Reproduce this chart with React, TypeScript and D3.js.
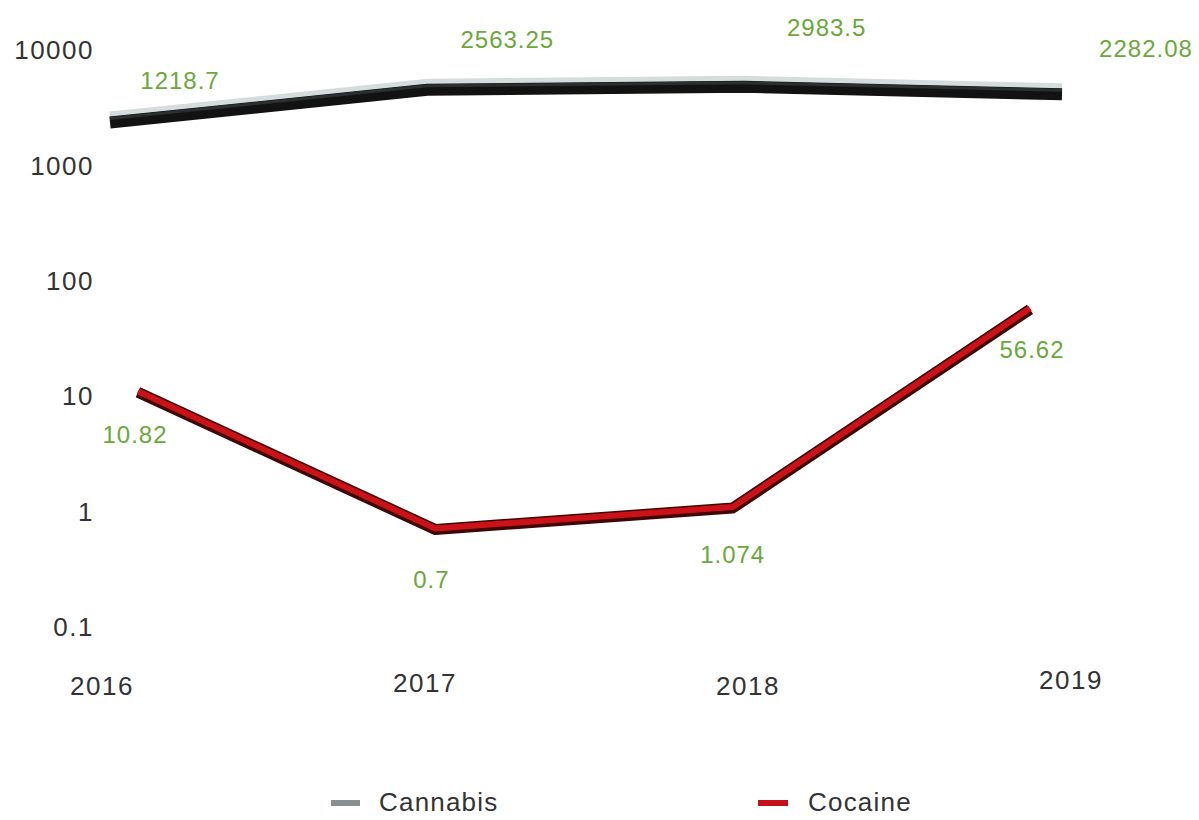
import React from "react";
import * as d3 from "d3";

const years = ["2016", "2017", "2018", "2019"];
// plotted positions
const cannabisValues = [2450, 4700, 5000, 4300];
const cocaineValues = [10.82, 0.7, 1.074, 56.62];
// data labels shown on the chart
const cannabisLabels = ["1218.7", "2563.25", "2983.5", "2282.08"];
const cocaineLabels = ["10.82", "0.7", "1.074", "56.62"];
const yTicks = [0.1, 1, 10, 100, 1000, 10000];
const yTickLabels = ["0.1", "1", "10", "100", "1000", "10000"];
const seriesNames = ["Cannabis", "Cocaine"];

const W = 1199;
const H = 820;
const FONT = "'Liberation Sans', Arial, Helvetica, sans-serif";
const GREEN = "#6aa83c";
const AXIS_TEXT = "#333333";

export default function App() {
  const y = d3.scaleLog().domain([0.1, 10000]).range([627, 50]);
  const xAxis = d3.scalePoint().domain(years).range([101, 1070]);
  const xCannabis = d3.scalePoint().domain(years).range([110, 1062]);
  const xCocaine = d3.scalePoint().domain(years).range([138, 1030]);

  const cannabisLine = d3
    .line<number>()
    .x((_, i) => xCannabis(years[i]) as number)
    .y((d) => y(d));
  const cocaineLine = d3
    .line<number>()
    .x((_, i) => xCocaine(years[i]) as number)
    .y((d) => y(d));

  const cPath = cannabisLine(cannabisValues) || "";
  const kPath = cocaineLine(cocaineValues) || "";

  // label offsets (layout only)
  const cannabisLabelPos = [
    { dx: 70, dy: -40 },
    { dx: 80, dy: -48 },
    { dx: 82, dy: -57 },
    { dx: 84, dy: -44 },
  ];
  const cocaineLabelPos = [
    { dx: -3, dy: 42 },
    { dx: -4, dy: 50 },
    { dx: 0, dy: 47 },
    { dx: 2, dy: 40 },
  ];
  const xLabelDy = [686, 683, 686, 680];

  return (
    <div style={{ position: "absolute", left: 0, top: 0 }}>
      <svg width={W} height={H} style={{ display: "block", background: "#fff" }}>
        {/* y tick labels */}
        {yTicks.map((t, i) => (
          <text
            key={"yt" + i}
            x={94}
            y={y(t)}
            dy="0.35em"
            textAnchor="end"
            fontFamily={FONT}
            fontSize={26}
            letterSpacing={1.5}
            fill={AXIS_TEXT}
          >
            {yTickLabels[i]}
          </text>
        ))}
        {/* x labels */}
        {years.map((yr, i) => (
          <text
            key={"xl" + yr}
            x={(xAxis(yr) as number) + 1}
            y={xLabelDy[i]}
            dy="0.35em"
            textAnchor="middle"
            fontFamily={FONT}
            fontSize={26}
            letterSpacing={1.5}
            fill={AXIS_TEXT}
          >
            {yr}
          </text>
        ))}

        {/* cannabis ribbon */}
        <path d={cPath} fill="none" stroke="#d6dcdc" strokeWidth={8} transform="translate(0,-5)" strokeLinejoin="round" />
        <path d={cPath} fill="none" stroke="#121212" strokeWidth={12} strokeLinejoin="round" transform="translate(0,2)" />
        <path d={cPath} fill="none" stroke="#2b2f2f" strokeWidth={3} strokeLinejoin="round" transform="translate(0,-2)" />

        {/* cocaine ribbon */}
        <path d={kPath} fill="none" stroke="#3f0606" strokeWidth={11} strokeLinejoin="round" />
        <path d={kPath} fill="none" stroke="#cc1219" strokeWidth={6} strokeLinejoin="round" transform="translate(0,-1)" />

        {/* data labels */}
        {cannabisValues.map((v, i) => (
          <text
            key={"cl" + i}
            x={(xCannabis(years[i]) as number) + cannabisLabelPos[i].dx}
            y={y(v) + cannabisLabelPos[i].dy}
            dy="0.35em"
            textAnchor="middle"
            fontFamily={FONT}
            fontSize={24}
            letterSpacing={1}
            fill={GREEN}
          >
            {cannabisLabels[i]}
          </text>
        ))}
        {cocaineValues.map((v, i) => (
          <text
            key={"kl" + i}
            x={(xCocaine(years[i]) as number) + cocaineLabelPos[i].dx}
            y={y(v) + cocaineLabelPos[i].dy}
            dy="0.35em"
            textAnchor="middle"
            fontFamily={FONT}
            fontSize={24}
            letterSpacing={1}
            fill={GREEN}
          >
            {cocaineLabels[i]}
          </text>
        ))}

        {/* legend */}
        <g>
          <rect x={331} y={800} width={29} height={6} fill="#8a8f8f" />
          <text x={379} y={802} dy="0.35em" fontFamily={FONT} fontSize={26} letterSpacing={1.2} fill={AXIS_TEXT}>
            {seriesNames[0]}
          </text>
          <rect x={758} y={800} width={30} height={6} fill="#c4101a" />
          <text x={808} y={802} dy="0.35em" fontFamily={FONT} fontSize={26} letterSpacing={1.2} fill={AXIS_TEXT}>
            {seriesNames[1]}
          </text>
        </g>
      </svg>
    </div>
  );
}
